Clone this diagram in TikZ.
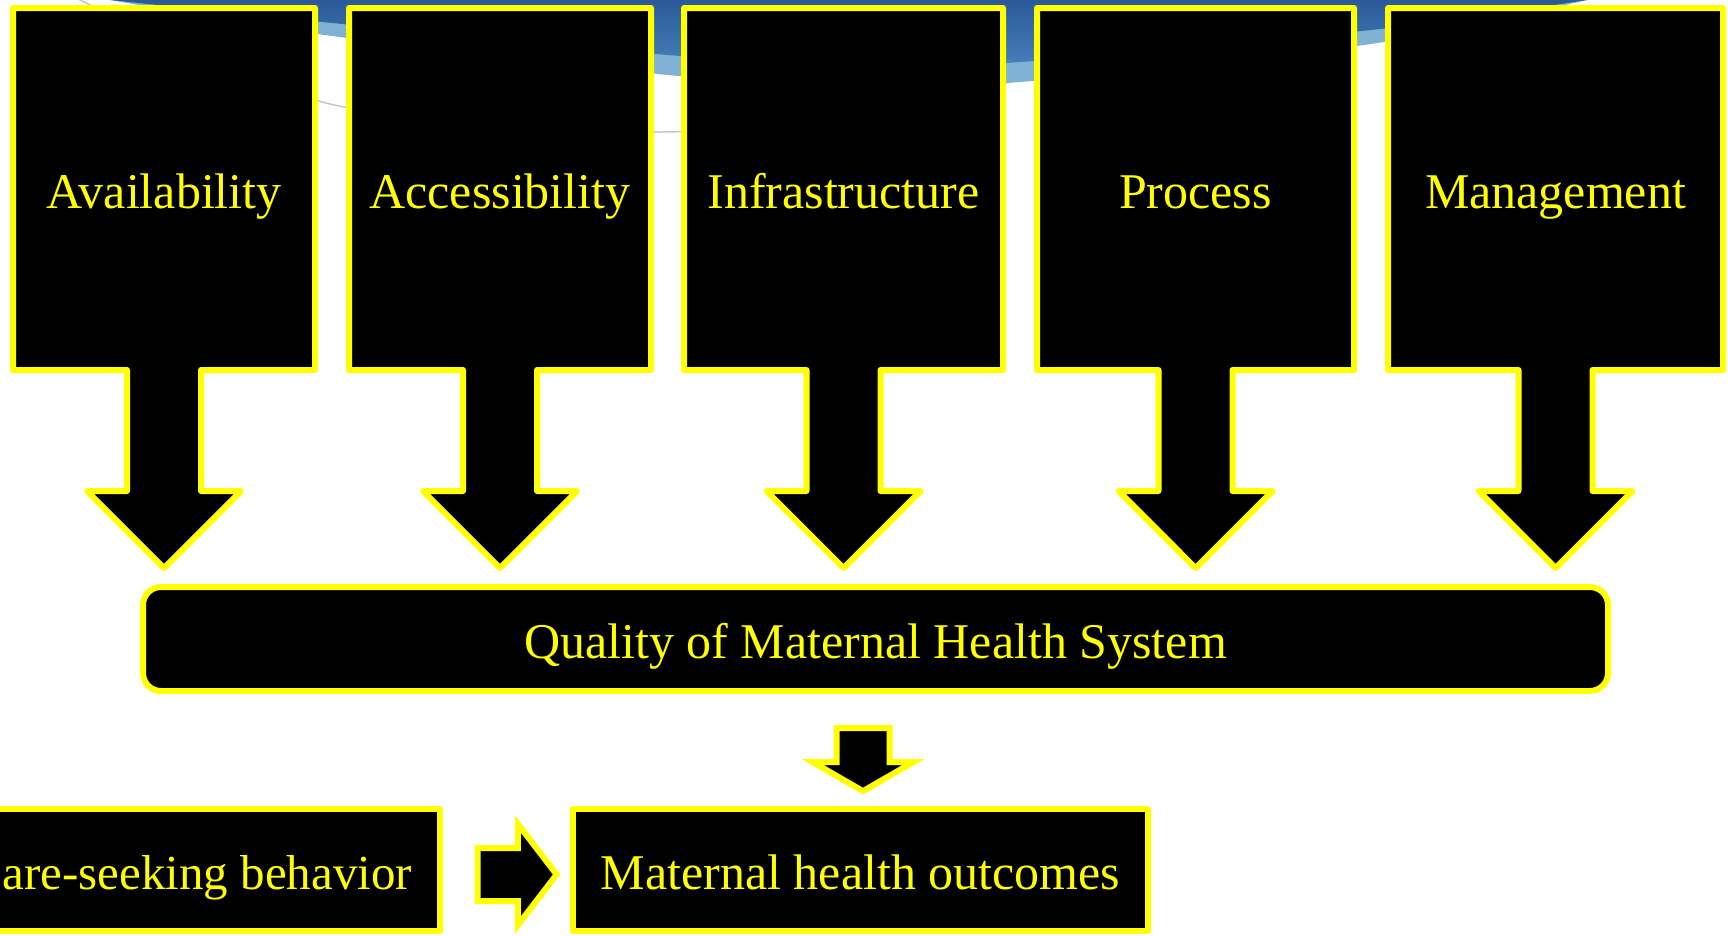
\documentclass[tikz,border=0pt]{standalone}
\usepackage{fontspec}
\setmainfont{Liberation Serif}
\usetikzlibrary{shapes.arrows}
\definecolor{hilite}{rgb}{1,1,0}
\definecolor{swooshdark}{RGB}{38,84,148}
\definecolor{swooshmid}{RGB}{70,128,186}
\definecolor{swooshlight}{RGB}{128,178,214}

\begin{document}
\begin{tikzpicture}[x=1pt,y=-1pt,font=\fontsize{50}{60}\selectfont]
\tikzstyle{factor}=[arrow box,draw=hilite,fill=black,text=hilite,line width=6pt,line join=round,inner sep=0pt,text height=38pt,text depth=0pt,minimum height=362pt,arrow box shaft width=74pt,arrow box head extend=40pt,arrow box head indent=0pt,arrow box tip angle=90,arrow box arrows={south:195pt}]
\tikzstyle{panel}=[rectangle,draw=hilite,fill=black,text=hilite,line width=6pt,line join=round,inner sep=0pt,text height=38pt,text depth=0pt]
\tikzstyle{blockarrow}=[single arrow,draw=hilite,fill=black,line width=6pt,inner xsep=0pt,inner ysep=23.5pt,single arrow head extend=24pt]

\useasboundingbox (0,0) rectangle (1728,935);
\clip (0,0) rectangle (1728,935);

% background swoosh
\fill[swooshlight] plot[smooth] coordinates {(110,0) (332,36) (668,75) (850,87) (1020,82) (1371,44) (1587,0)} -- (1587,-10) -- (110,-10) -- cycle;
\shade[top color=swooshdark,bottom color=swooshmid] plot[smooth] coordinates {(110,0) (332,23) (668,55) (850,66) (1020,62) (1371,30) (1587,0)} -- (1587,-10) -- (110,-10) -- cycle;
\draw[gray!45,line width=1.5pt] plot[smooth] coordinates {(70,-5) (330,104) (660,132) (950,105)};

\node [factor,minimum width=302pt] (0) at(164,189) {Availability};
\node [factor,minimum width=302pt] (1) at(500,189) {Accessibility};
\node [factor,minimum width=319pt] (2) at(843.5,189) {Infrastructure};
\node [factor,minimum width=317pt] (3) at(1195.5,189) {Process};
\node [factor,minimum width=335pt] (4) at(1555.5,189) {Management};

\node [panel,rounded corners=18pt,minimum width=1465pt,minimum height=104pt] (5) at(875.5,639) {Quality of Maternal Health System};
\node [panel,anchor=east,inner xsep=28pt,minimum height=122pt,font=\fontsize{49}{60}\selectfont] (6) at(443,870) {\hspace*{300pt}are-seeking behavior};
\node [panel,minimum width=575pt,minimum height=122pt] (7) at(860.5,870) {Maternal health outcomes};

\node [blockarrow,rotate=-90,minimum height=63pt,minimum width=97pt,single arrow tip angle=120] (8) at(863,752) {};
\node [blockarrow,minimum height=79pt,minimum width=94pt,single arrow tip angle=105] (9) at(507,874.5) {};
\end{tikzpicture}
\end{document}
